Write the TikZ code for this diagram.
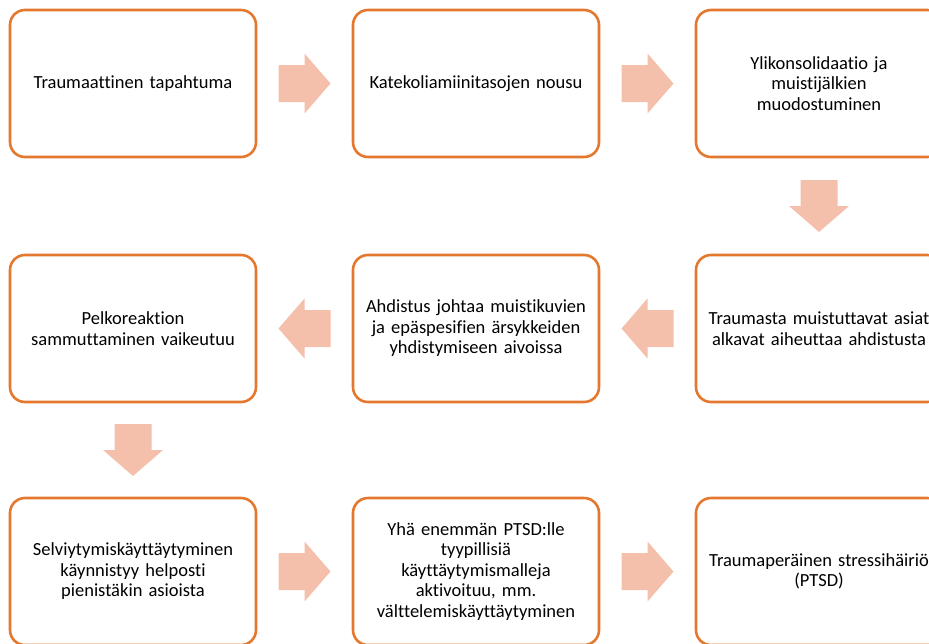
\documentclass[tikz,border=0pt]{standalone}
\usepackage{fontspec}
\setmainfont{Carlito}[Ligatures=NoCommon]
\usetikzlibrary{calc}
\definecolor{boxorange}{HTML}{E5782F}
\definecolor{arrpink}{HTML}{F4BFAB}

\begin{document}
\begin{tikzpicture}[x=1pt, y=-1pt,
  box/.style={draw=boxorange, line width=2.6pt, rounded corners=15pt, fill=white,
              minimum width=246pt, minimum height=147pt, text width=240pt,
              align=center, inner sep=0pt,
              font=\fontsize{18.5}{20.5}\selectfont},
  blkarr/.pic={\fill[arrpink] (-26,-18.5) -- (0,-18.5) -- (0,-30) -- (26,0)
                -- (0,30) -- (0,18.5) -- (-26,18.5) -- cycle;}
]
  \clip (0,0) rectangle (929,643);
  \useasboundingbox (0,0) rectangle (929,643);

  % row 1
  \node[box] (trauma)  at (133,  83.5) {Traumaattinen tapahtuma};
  \node[box] (kateko)  at (476,  83.5) {Katekoliamiinitasojen nousu};
  \node[box] (ylikons) at (819,  83.5) {Ylikonsolidaatio ja\\muistijälkien\\muodostuminen};

  % row 2
  \node[box] (muistut) at (819, 328.5) {Traumasta muistuttavat asiat\\alkavat aiheuttaa ahdistusta};
  \node[box] (ahdist)  at (476, 328.5) {Ahdistus johtaa muistikuvien\\ja epäspesifien ärsykkeiden\\yhdistymiseen aivoissa};
  \node[box] (pelko)   at (133, 328.5) {Pelkoreaktion\\sammuttaminen vaikeutuu};

  % row 3
  \node[box] (selviyt) at (133, 571.5) {Selviytymiskäyttäytyminen\\käynnistyy helposti\\pienistäkin asioista};
  \node[box] (ptsdmal) at (476, 571.5) {Yhä enemmän PTSD:lle\\tyypillisiä\\käyttäytymismalleja\\aktivoituu, mm.\\välttelemiskäyttäytyminen};
  \node[box] (ptsd)    at (819, 571.5) {Traumaperäinen stressihäiriö\\(PTSD)};

  % block arrows
  \pic at ($(trauma.east)!0.5!(kateko.west)$) {blkarr};
  \pic at ($(kateko.east)!0.5!(ylikons.west)$) {blkarr};
  \pic[rotate=-90] at ($(ylikons.south)!0.5!(muistut.north)$) {blkarr};
  \pic[rotate=180] at ($(muistut.west)!0.5!(ahdist.east)$) {blkarr};
  \pic[rotate=180] at ($(ahdist.west)!0.5!(pelko.east)$) {blkarr};
  \pic[rotate=-90] at ($(pelko.south)!0.5!(selviyt.north)$) {blkarr};
  \pic at ($(selviyt.east)!0.5!(ptsdmal.west)$) {blkarr};
  \pic at ($(ptsdmal.east)!0.5!(ptsd.west)$) {blkarr};
\end{tikzpicture}
\end{document}
